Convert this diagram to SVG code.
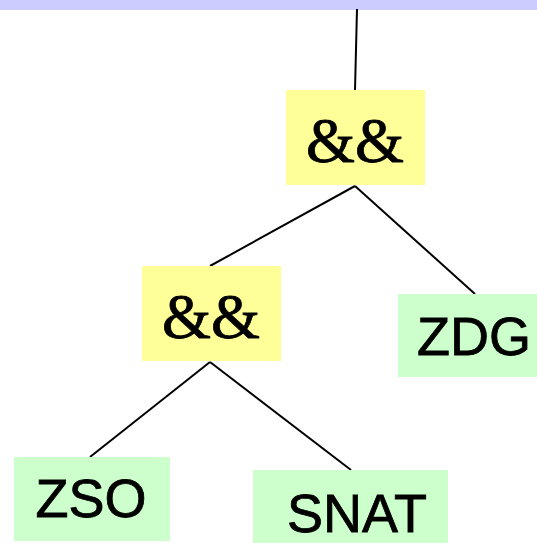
<svg xmlns="http://www.w3.org/2000/svg" width="537" height="543" viewBox="0 0 537 543">
<style>
.op rect{fill:#FFFF99}
.leaf rect{fill:#CCFFCC}
.op text{font-family:"Liberation Serif","Times New Roman",serif;font-size:63px;fill:#000;stroke:#000;stroke-width:0.8;text-anchor:middle}
.leaf text{font-family:"Liberation Sans",Arial,sans-serif;font-size:54px;fill:#000;stroke:#000;stroke-width:0.8;text-anchor:middle}
#edges line{stroke:#000;stroke-width:2}
</style>
<rect x="0" y="0" width="537" height="10" fill="#CCCCFF"/>
<g id="edges">
<line x1="357" y1="9" x2="355" y2="90"/>
<line x1="355" y1="186" x2="210" y2="266"/>
<line x1="355" y1="186" x2="475" y2="294"/>
<line x1="210" y1="362" x2="90" y2="457"/>
<line x1="210" y1="362" x2="351" y2="470"/>
</g>
<g id="and1" class="op"><rect x="286" y="90" width="139" height="95"/><text x="355" y="162">&amp;&amp;</text></g>
<g id="and2" class="op"><rect x="142" y="266" width="139" height="95"/><text x="211" y="338">&amp;&amp;</text></g>
<g id="zdg" class="leaf"><rect x="398" y="294" width="139" height="83"/><text x="474" y="355">ZDG</text></g>
<g id="zso" class="leaf"><rect x="14" y="457" width="156" height="84"/><text x="91" y="517">ZSO</text></g>
<g id="snat" class="leaf"><rect x="253" y="470" width="195" height="73"/><text x="357" y="532">SNAT</text></g>
</svg>
